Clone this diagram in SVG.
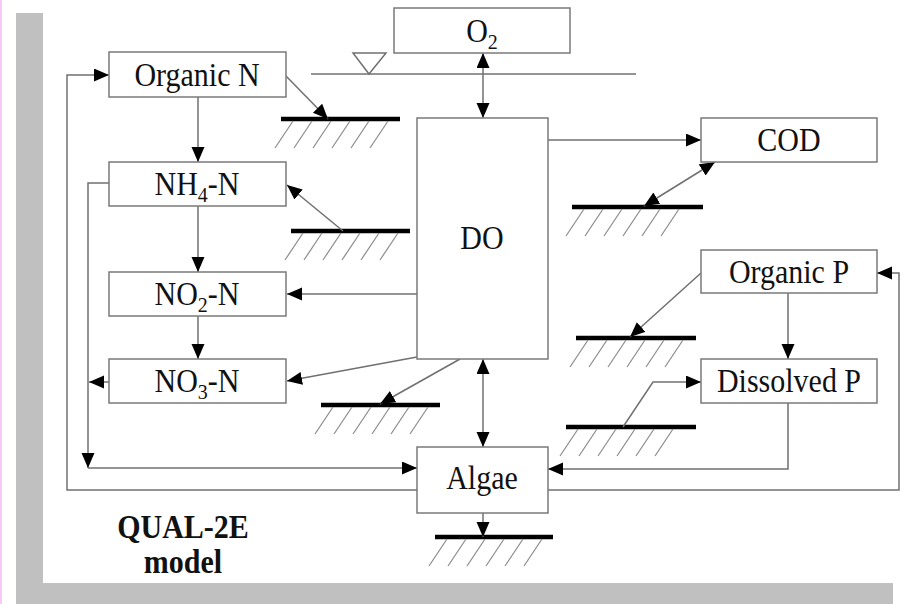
<svg xmlns="http://www.w3.org/2000/svg" xmlns:xlink="http://www.w3.org/1999/xlink" width="923" height="604" viewBox="0 0 923 604">
<style>
.box{fill:#fff;stroke:#7a7a7a;stroke-width:1.5}
.lbl{font-family:"Liberation Serif","Times New Roman",serif;font-size:30px;fill:#111;text-anchor:middle}
.sub{font-size:20px}
.con{fill:none;stroke:#707070;stroke-width:1.5}
.gl{stroke:#000;stroke-width:4.5}
.ht{stroke:#8a8a8a;stroke-width:1.2}
.title{font-family:"Liberation Serif","Times New Roman",serif;font-size:30px;font-weight:bold;fill:#111;text-anchor:middle}
</style>
<defs>
<marker id="ah" markerUnits="userSpaceOnUse" markerWidth="16" markerHeight="14" refX="15" refY="6.5" orient="auto-start-reverse">
<path d="M0,0 L15,6.5 L0,13 z" fill="#000"/>
</marker>
<g id="hatch">
<line class="ht" x1="12" y1="2" x2="-6" y2="29"/>
<line class="ht" x1="31" y1="2" x2="13" y2="29"/>
<line class="ht" x1="50" y1="2" x2="32" y2="29"/>
<line class="ht" x1="69" y1="2" x2="51" y2="29"/>
<line class="ht" x1="88" y1="2" x2="70" y2="29"/>
<line class="ht" x1="107" y1="2" x2="89" y2="29"/>
</g>
</defs>
<rect width="923" height="604" fill="#fff"/>
<line x1="1" y1="0" x2="1" y2="604" stroke="#f4b8f0" stroke-width="1.5"/>
<g id="frame" fill="#c0c0c0">
<rect x="16" y="13" width="27" height="591"/>
<rect x="16" y="583" width="877" height="21"/>
</g>
<g id="surface">
<line x1="311" y1="74" x2="636" y2="74" stroke="#707070" stroke-width="1.5"/>
<path d="M353,53 L386,53 L369,74 z" fill="none" stroke="#707070" stroke-width="1.5"/>
</g>
<g id="sediments">
<line class="gl" x1="281" y1="119" x2="400" y2="119"/><use xlink:href="#hatch" href="#hatch" x="281" y="119"/>
<line class="gl" x1="291" y1="231" x2="410" y2="231"/><use xlink:href="#hatch" href="#hatch" x="291" y="231"/>
<line class="gl" x1="572" y1="207" x2="703" y2="207"/><use xlink:href="#hatch" href="#hatch" x="572" y="207"/>
<line class="gl" x1="576" y1="338" x2="696" y2="338"/><use xlink:href="#hatch" href="#hatch" x="576" y="338"/>
<line class="gl" x1="566" y1="427" x2="696" y2="427"/><use xlink:href="#hatch" href="#hatch" x="566" y="427"/>
<line class="gl" x1="321" y1="405" x2="440" y2="405"/><use xlink:href="#hatch" href="#hatch" x="321" y="405"/>
<line class="gl" x1="435" y1="537" x2="553" y2="537"/><use xlink:href="#hatch" href="#hatch" x="435" y="537"/>
</g>
<g id="connectors">
<path class="con" d="M417,490 H67 V75 H109" marker-end="url(#ah)"/>
<path class="con" d="M109,183 H88 V468" marker-end="url(#ah)"/>
<path class="con" d="M88,468 H417" marker-end="url(#ah)"/>
<path class="con" d="M109,382 H89" marker-end="url(#ah)"/>
<path class="con" d="M198,97 V162" marker-end="url(#ah)"/>
<path class="con" d="M198,206 V272" marker-end="url(#ah)"/>
<path class="con" d="M198,316 V359" marker-end="url(#ah)"/>
<path class="con" d="M286,76 L328,119" marker-end="url(#ah)"/>
<path class="con" d="M343,231 L287,185" marker-end="url(#ah)"/>
<path class="con" d="M417,294 H287" marker-end="url(#ah)"/>
<path class="con" d="M417,357 L287,381" marker-end="url(#ah)"/>
<path class="con" d="M460,359 L380,404" marker-end="url(#ah)"/>
<path class="con" d="M483,53 V118" marker-start="url(#ah)" marker-end="url(#ah)"/>
<path class="con" d="M548,140 H701" marker-end="url(#ah)"/>
<path class="con" d="M644,206 L715,162" marker-start="url(#ah)" marker-end="url(#ah)"/>
<path class="con" d="M483,359 V447" marker-start="url(#ah)" marker-end="url(#ah)"/>
<path class="con" d="M483,513 V537" marker-end="url(#ah)"/>
<path class="con" d="M701,273 L630,337" marker-end="url(#ah)"/>
<path class="con" d="M788,293 V359" marker-end="url(#ah)"/>
<path class="con" d="M623,427 L653,382 H701" marker-end="url(#ah)"/>
<path class="con" d="M788,403 V469 H548" marker-end="url(#ah)"/>
<path class="con" d="M548,490 H899 V273 H877" marker-end="url(#ah)"/>
</g>
<g id="organicN"><rect class="box" x="109" y="52" width="177" height="45"/><text class="lbl" transform="translate(197,86) scale(1,1.1)">Organic N</text></g>
<g id="nh4"><rect class="box" x="109" y="162" width="177" height="44"/><text class="lbl" transform="translate(197,195) scale(1,1.1)">NH<tspan class="sub" dy="6">4</tspan><tspan dy="-6">-N</tspan></text></g>
<g id="no2"><rect class="box" x="109" y="272" width="177" height="44"/><text class="lbl" transform="translate(197,305) scale(1,1.1)">NO<tspan class="sub" dy="6">2</tspan><tspan dy="-6">-N</tspan></text></g>
<g id="no3"><rect class="box" x="109" y="359" width="177" height="44"/><text class="lbl" transform="translate(197,392) scale(1,1.1)">NO<tspan class="sub" dy="6">3</tspan><tspan dy="-6">-N</tspan></text></g>
<g id="o2"><rect class="box" x="394" y="8" width="176" height="45"/><text class="lbl" transform="translate(482,42) scale(1,1.1)">O<tspan class="sub" dy="6">2</tspan></text></g>
<g id="do"><rect class="box" x="417" y="118" width="131" height="241"/><text class="lbl" transform="translate(482,249) scale(1,1.1)">DO</text></g>
<g id="cod"><rect class="box" x="701" y="118" width="176" height="44"/><text class="lbl" transform="translate(789,151) scale(1,1.1)">COD</text></g>
<g id="organicP"><rect class="box" x="701" y="250" width="176" height="43"/><text class="lbl" transform="translate(789,283) scale(1,1.1)">Organic P</text></g>
<g id="dissolvedP"><rect class="box" x="701" y="359" width="176" height="44"/><text class="lbl" transform="translate(789,392) scale(1,1.1)">Dissolved P</text></g>
<g id="algae"><rect class="box" x="417" y="447" width="131" height="66"/><text class="lbl" transform="translate(482,489) scale(1,1.1)">Algae</text></g>
<g id="title"><text class="title" transform="translate(183,538) scale(1,1.1)">QUAL-2E</text><text class="title" transform="translate(183,573) scale(1,1.1)">model</text></g>
</svg>
